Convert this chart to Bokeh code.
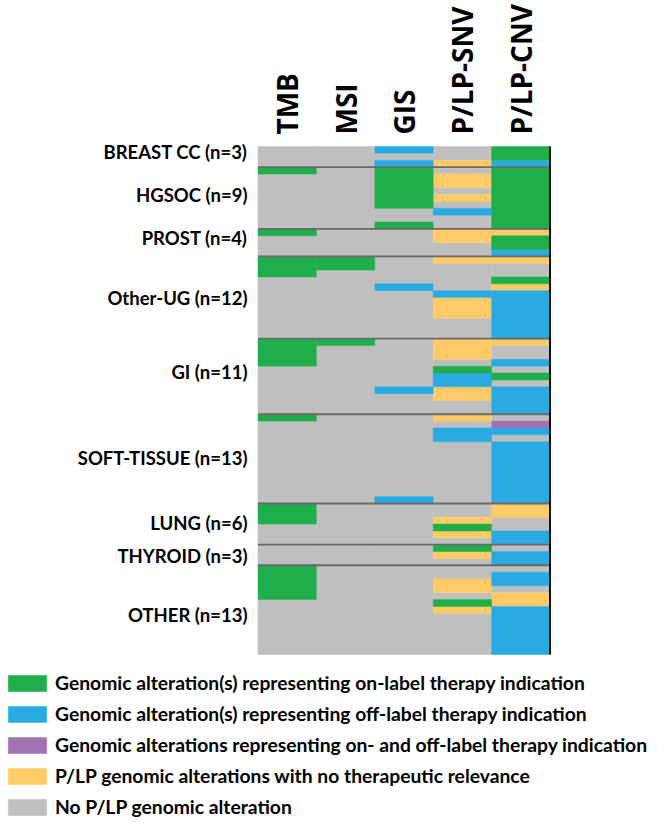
import numpy as np
from bokeh.plotting import figure
from bokeh.models import ColumnDataSource, Range1d, Legend, LegendItem
from bokeh.core.properties import value
from bokeh.embed import file_html
from bokeh.resources import INLINE

# ---------------- data ----------------
columns = ["TMB", "MSI", "GIS", "P/LP-SNV", "P/LP-CNV"]
groups = ["BREAST CC", "HGSOC", "PROST", "Other-UG", "GI", "SOFT-TISSUE", "LUNG", "THYROID", "OTHER"]
group_sizes = [3, 9, 4, 12, 11, 13, 6, 3, 13]

# status per sample, one string per tumour group
# G on-label, B off-label, P on- and off-label, Y P/LP no therapeutic relevance, N none
tmb = ["NNN", "GNNNNNNNN", "GNNN", "GGGNNNNNNNNN", "GGGGNNNNNNN",
       "GNNNNNNNNNNNN", "GGGNNN", "NNN", "GGGGGNNNNNNNN"]
msi = ["NNN", "NNNNNNNNN", "NNNN", "GGNNNNNNNNNN", "GNNNNNNNNNN",
       "NNNNNNNNNNNNN", "NNNNNN", "NNN", "NNNNNNNNNNNNN"]
gis = ["BNB", "GGGGGGNNG", "NNNN", "NNNNBNNNNNNN", "NNNNNNNBNNN",
       "NNNNNNNNNNNNB", "NNNNNN", "NNN", "NNNNNNNNNNNNN"]
snv = ["NNY", "NYYNYNBNN", "YYNN", "YNNNNBYYYNNN", "YYYNGBBYYNN",
       "YNBBNNNNNNNNN", "NNYGYN", "GYN", "NNYYNGYNNNNNN"]
cnv = ["GGB", "GGGGGGGGG", "YGGB", "YNNGYBBBBBBB", "YNNBNGNBBBB",
       "NPBNBBBBBBBBB", "YYNNBB", "NBB", "NBBNYYBBBBBBB"]

status_order = ["G", "B", "P", "Y", "N"]
status_labels = [
    "Genomic alteration(s) representing on-label therapy indication",
    "Genomic alteration(s) representing off-label therapy indication",
    "Genomic alterations representing on- and off-label therapy indication",
    "P/LP genomic alterations with no therapeutic relevance",
    "No P/LP genomic alteration",
]
status_colors = ["#1fae4b", "#29abe2", "#a171b0", "#fecb66", "#c0bfbf"]

# approximate vertical position of each group label (in sample rows)
group_label_rows = [0.75, 7.05, 13.4, 22.0, 32.8, 45.4, 54.8, 59.6, 68.3]

# ---------------- layout ----------------
W, H = 653, 819
GRID_LEFT, GRID_TOP = 257.5, 146.0     # px inside the figure
COL_W, ROW_H = 58.4, 6.865             # px per column / per sample row
FONT = "Lato"

n_rows = sum(group_sizes)

p = figure(width=W, height=H, output_backend="svg", toolbar_location=None,
           x_range=Range1d(-GRID_LEFT / COL_W, (W - GRID_LEFT) / COL_W),
           y_range=Range1d((H - GRID_TOP) / ROW_H, -GRID_TOP / ROW_H),
           x_axis_type=None, y_axis_type=None, min_border=0,
           outline_line_color=None, background_fill_color="white",
           border_fill_color="white")

# cells: consecutive identical statuses in a column are merged into one block
col_codes = [tmb, msi, gis, snv, cnv]
blocks = {s: dict(left=[], right=[], top=[], bottom=[]) for s in status_order}
for ci, grp_codes in enumerate(col_codes):
    seq = "".join(grp_codes)
    assert len(seq) == n_rows
    start = 0
    for ri in range(1, n_rows + 1):
        if ri == n_rows or seq[ri] != seq[start]:
            b = blocks[seq[start]]
            b["left"].append(ci)
            b["right"].append(ci + 1)
            b["top"].append(start)
            b["bottom"].append(ri)
            start = ri

renderers = {}
for s, col in zip(status_order[::-1], status_colors[::-1]):
    src = ColumnDataSource(blocks[s])
    renderers[s] = p.quad(left="left", right="right", top="top", bottom="bottom",
                          source=src, fill_color=col, line_color=col, line_width=0.5)

# group separators
bounds = np.cumsum(group_sizes)[:-1]
p.segment(x0=[0] * len(bounds), x1=[len(columns)] * len(bounds), y0=bounds, y1=bounds,
          line_color="#6a6a6a", line_width=1.8)

# right border
p.segment(x0=[len(columns)], x1=[len(columns)], y0=[0], y1=[n_rows],
          line_color="#111111", line_width=2)

# column headers
p.text(x=[i + 0.5 for i in range(len(columns))], y=[0] * len(columns), text=columns,
       angle=np.pi / 2, text_align="left", text_baseline="middle", y_offset=-12,
       text_font=value("Open Sans"), text_font_style="bold", text_font_size="28px",
       text_color="black")

# group labels
labels = [f"{g} (n={n})" for g, n in zip(groups, group_sizes)]
p.text(x=[0] * len(labels), y=group_label_rows, text=labels, x_offset=-10.5,
       text_align="right", text_baseline="middle",
       text_font=value(FONT), text_font_style="bold", text_font_size="18.5px",
       text_color="black")

# legend
items = [LegendItem(label=lab, renderers=[renderers[s]])
         for s, lab in zip(status_order, status_labels)]
legend = Legend(items=items, location=(3, 1), orientation="vertical",
                glyph_width=48, glyph_height=20, label_height=20, label_standoff=4,
                spacing=8, padding=0, margin=0, border_line_color=None,
                background_fill_alpha=0, label_text_font=FONT,
                label_text_font_style="bold", label_text_font_size="19.3px",
                label_text_color="black")
p.add_layout(legend)

open("out.html", "w").write(file_html(p, INLINE))
